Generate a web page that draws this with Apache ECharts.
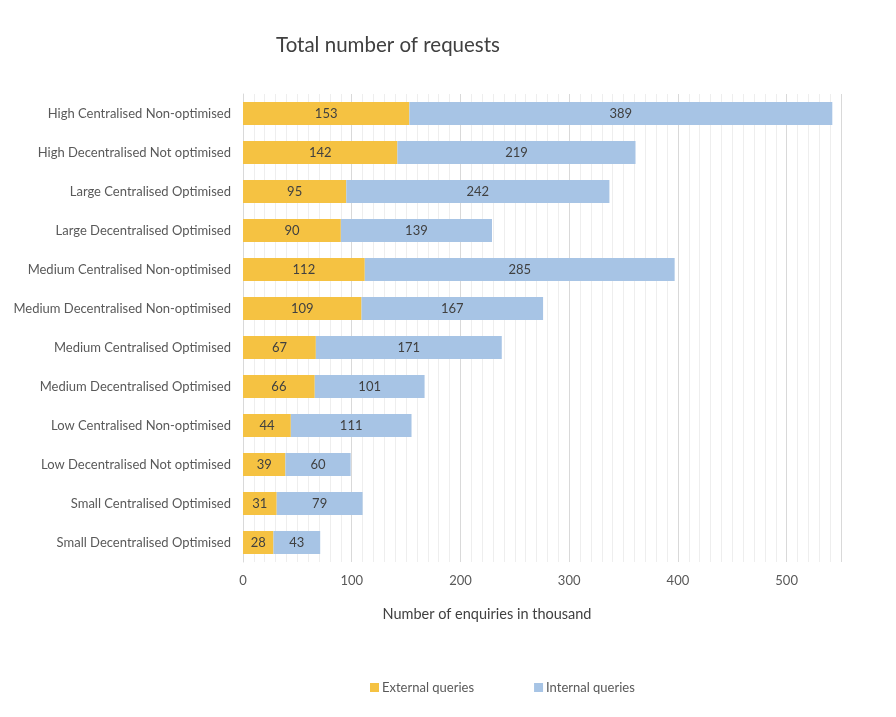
<!DOCTYPE html>
<html><head><meta charset="utf-8">
<script src="https://cdn.jsdelivr.net/npm/echarts@6/dist/echarts.min.js"></script>
<style>html,body{margin:0;padding:0;background:#fff}#c{width:896px;height:717px}</style>
</head><body><div id="c"></div>
<script>
const categories = [
  "High Centralised Non-optimised",
  "High Decentralised Not optimised",
  "Large Centralised Optimised",
  "Large Decentralised Optimised",
  "Medium Centralised Non-optimised",
  "Medium Decentralised Non-optimised",
  "Medium Centralised Optimised",
  "Medium Decentralised Optimised",
  "Low Centralised Non-optimised",
  "Low Decentralised Not optimised",
  "Small Centralised Optimised",
  "Small Decentralised Optimised"
];
const externalQueries = [153, 142, 95, 90, 112, 109, 67, 66, 44, 39, 31, 28];
const internalQueries = [389, 219, 242, 139, 285, 167, 171, 101, 111, 60, 79, 43];

const FONT = "Lato, 'Open Sans', sans-serif";
const chart = echarts.init(document.getElementById('c'), null, {renderer: 'canvas'});
chart.setOption({
  animation: false,
  textStyle: {fontFamily: FONT},
  title: [
    {text: 'Total number of requests', left: 388, top: 35, textAlign: 'center', padding: 0,
     textStyle: {fontFamily: FONT, fontSize: 20.5, fontWeight: 'normal', color: '#404040'}},
    {text: 'Number of enquiries in thousand', left: 487, top: 607, textAlign: 'center', padding: 0,
     textStyle: {fontFamily: FONT, fontSize: 14.5, fontWeight: 'normal', color: '#404040'}}
  ],
  legend: {
    left: 370, top: 681, padding: 0, itemWidth: 9, itemHeight: 9, itemGap: 60, icon: 'rect',
    textStyle: {fontFamily: FONT, fontSize: 13, color: '#595959', padding: [0, 0, 0, -2]},
    data: ['External queries', 'Internal queries']
  },
  grid: {left: 243, right: 55, top: 94, bottom: 155, containLabel: false},
  xAxis: {
    type: 'value', min: 0, max: 550, interval: 100,
    axisLine: {show: false}, axisTick: {show: false},
    axisLabel: {showMaxLabel: false, color: '#595959', fontSize: 13, fontFamily: FONT, margin: 12},
    splitLine: {show: true, lineStyle: {color: '#d9d9d9', width: 1}},
    minorTick: {show: false, splitNumber: 10},
    minorSplitLine: {show: true, lineStyle: {color: '#eeeeee', width: 1}}
  },
  yAxis: {
    type: 'category', data: categories, inverse: true,
    axisLine: {show: true, lineStyle: {color: '#d9d9d9'}}, axisTick: {show: false},
    axisLabel: {color: '#595959', fontSize: 13, fontFamily: FONT, margin: 12}
  },
  series: [
    {name: 'External queries', type: 'bar', stack: 't', data: externalQueries, barWidth: 23,
     itemStyle: {color: '#F5C242'},
     label: {show: true, position: 'inside', color: '#404040', fontSize: 13, fontFamily: FONT}},
    {name: 'Internal queries', type: 'bar', stack: 't', data: internalQueries, barWidth: 23,
     itemStyle: {color: '#A7C4E5'},
     label: {show: true, position: 'inside', color: '#404040', fontSize: 13, fontFamily: FONT}}
  ]
});
</script></body></html>
